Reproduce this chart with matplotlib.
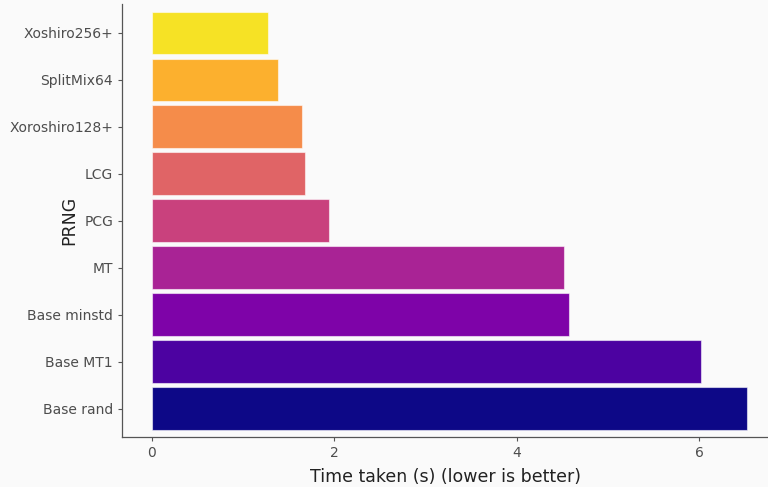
import matplotlib
matplotlib.use("Agg")
import matplotlib.pyplot as plt

# ── Data (bottom to top) ──────────────────────────────────────────────────────
prngs = ["Base rand", "Base MT1", "Base minstd", "MT", "PCG",
         "LCG", "Xoroshiro128+", "SplitMix64", "Xoshiro256+"]
times = [6.52, 6.02, 4.57, 4.52, 1.94, 1.675, 1.645, 1.38, 1.27]
colors = ["#0D0887", "#4C02A1", "#7E03A8", "#A92395", "#C9417D",
          "#E06466", "#F58C4A", "#FCB02E", "#F6E225"]

BG = "#FAFAFA"

fig = plt.figure(figsize=(7.68, 4.87), dpi=100, facecolor=BG)
ax = fig.add_axes([0.1589, 0.1033, 0.8411, 0.8875], facecolor=BG)

ypos = list(range(len(prngs)))
ax.barh(ypos, times, height=0.9, color=colors,
        edgecolor=(1, 1, 1, 0.55), linewidth=0.8)

ax.set_yticks(ypos)
ax.set_yticklabels(prngs)
ax.set_xticks([0, 2, 4, 6])
ax.set_xlim(-0.326, 6.755)
ax.set_ylim(-0.6, len(prngs) - 0.4)

for side in ("top", "right"):
    ax.spines[side].set_visible(False)
for side in ("left", "bottom"):
    ax.spines[side].set_color("#555555")
    ax.spines[side].set_linewidth(0.9)

ax.tick_params(axis="both", colors="#555555", labelcolor="#4d4d4d",
               labelsize=10, length=3, width=0.8)
ax.set_xlabel("Time taken (s) (lower is better)", fontsize=12.5, color="#222222", labelpad=6)
ax.set_ylabel("PRNG", fontsize=12.5, color="#222222")
# the title sits tucked in beside the short labels, as in the original
ax.yaxis.set_label_coords(-0.068, 0.5)

fig.savefig("out.png", dpi=100, facecolor=BG)
